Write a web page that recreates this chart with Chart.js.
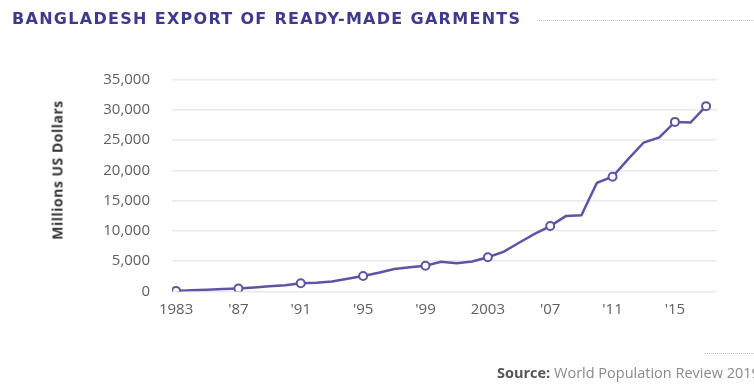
<!DOCTYPE html>
<html>
<head>
<meta charset="utf-8">
<script src="https://cdn.jsdelivr.net/npm/chart.js@4/dist/chart.umd.min.js"></script>
<style>
  html,body{margin:0;padding:0;background:#fff;width:754px;height:385px;overflow:hidden;position:relative;}
  #title{position:absolute;left:12px;top:10px;font-family:"DejaVu Sans",sans-serif;font-weight:bold;font-size:16px;letter-spacing:1.3px;color:#3e3a8e;white-space:nowrap;line-height:18px;}
  #dots{position:absolute;right:0;top:20px;border-top:1.5px dotted #c4c4c4;}
  #src{position:absolute;left:497px;top:364px;font-family:"Open Sans",sans-serif;font-size:14.5px;color:#8a8a8a;white-space:nowrap;line-height:18px;}
  #src b{color:#555;font-weight:700;}
  #srcdots{position:absolute;left:705px;width:49px;top:353px;border-top:1.5px dotted #c4c4c4;}
  #ytitle{position:absolute;left:57px;top:170px;transform:translate(-50%,-50%) rotate(-90deg);font-family:"Open Sans",sans-serif;font-weight:bold;font-size:14px;letter-spacing:0.5px;color:#333;white-space:nowrap;}
  #wrap{position:absolute;left:0;top:0;width:754px;height:385px;}
</style>
</head>
<body>
<div id="wrap"><canvas id="c"></canvas></div>
<div id="title">BANGLADESH EXPORT OF READY-MADE GARMENTS</div>
<div id="dots"></div>
<div id="ytitle"></div>
<div id="srcdots"></div>
<div id="src"><b>Source:</b> World Population Review 2019</div>
<script>
const years = [1983,1984,1985,1986,1987,1988,1989,1990,1991,1992,1993,1994,1995,1996,1997,1998,1999,2000,2001,2002,2003,2004,2005,2006,2007,2008,2009,2010,2011,2012,2013,2014,2015,2016,2017];
const exportsMUSD = [100,200,300,400,500,650,850,1050,1350,1450,1650,2100,2550,3100,3700,4000,4250,4900,4650,4950,5650,6550,8050,9500,10800,12450,12600,17950,18950,21850,24600,25450,28000,27900,30600];
const markerYears = [1983,1987,1991,1995,1999,2003,2007,2011,2015,2017];
const tickYears = [1983,1987,1991,1995,1999,2003,2007,2011,2015];
const tickLabels = ["1983","'87","'91","'95","'99","2003","'07","'11","'15"];
const yTitle = "Millions US Dollars";

const lineColor = '#5b55a6';

document.getElementById('ytitle').textContent = yTitle;
// dotted rule after the title
const t = document.getElementById('title');
const d = document.getElementById('dots');
d.style.left = (t.offsetLeft + t.offsetWidth + 18) + 'px';

new Chart(document.getElementById('c'), {
  type: 'line',
  data: {
    datasets: [{
      data: years.map((yr, i) => ({x: yr, y: exportsMUSD[i]})),
      borderColor: lineColor,
      borderWidth: 2.5,
      tension: 0,
      pointRadius: ctx => markerYears.includes(years[ctx.dataIndex]) ? 4 : 0,
      pointHoverRadius: 0,
      pointBackgroundColor: '#ffffff',
      pointBorderColor: lineColor,
      pointBorderWidth: 2
    }]
  },
  options: {
    responsive: true,
    maintainAspectRatio: false,
    animation: false,
    layout: {padding: {left: 70, top: 79.5, right: 37, bottom: 0}},
    plugins: {legend: {display: false}, tooltip: {enabled: false}},
    scales: {
      x: {
        type: 'linear',
        min: 1982.74,
        max: 2017.7,
        afterBuildTicks: axis => { axis.ticks = tickYears.map(v => ({value: v})); },
        afterFit: axis => { axis.height = 93.5; },
        grid: {display: false, drawTicks: false},
        border: {display: false},
        ticks: {
          autoSkip: false,
          maxRotation: 0,
          padding: 9,
          color: '#606060',
          font: {family: 'Open Sans', size: 15},
          callback: v => { const i = tickYears.indexOf(v); return i >= 0 ? tickLabels[i] : ''; }
        }
      },
      y: {
        min: 0,
        max: 35000,
        afterFit: axis => { axis.width = 102; },
        grid: {color: '#e9e9e9', lineWidth: 1.5, drawTicks: false},
        border: {display: false},
        ticks: {
          stepSize: 5000,
          padding: 22,
          color: '#606060',
          font: {family: 'Open Sans', size: 15},
          callback: v => v.toLocaleString('en-US')
        }
      }
    }
  }
});
</script>
</body>
</html>
